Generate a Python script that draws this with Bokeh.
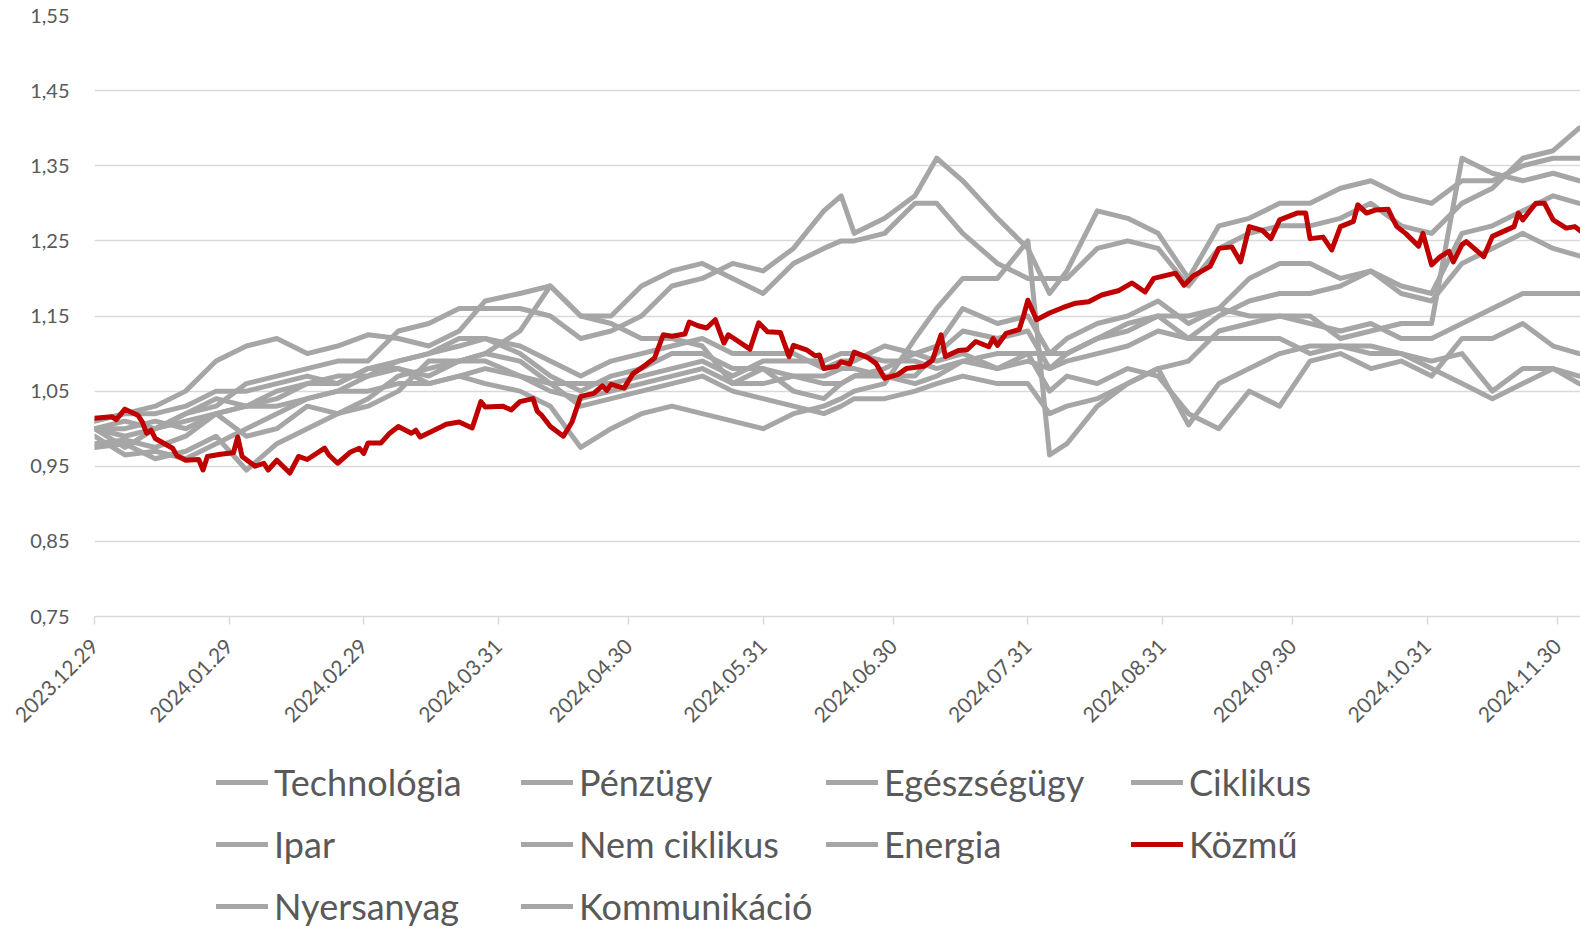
import math
import pandas as pd
from bokeh.plotting import figure
from bokeh.layouts import column
from bokeh.models import (ColumnDataSource, FixedTicker, CustomJSTickFormatter, Range1d,
                          Legend, LegendItem)
from bokeh.embed import file_html
from bokeh.resources import INLINE

# ---------------- data ----------------
grid_dates = ["2023-12-29", "2024-01-05", "2024-01-12", "2024-01-19", "2024-01-26",
              "2024-02-02", "2024-02-09", "2024-02-16", "2024-02-23",
              "2024-03-01", "2024-03-08", "2024-03-15", "2024-03-22", "2024-03-28",
              "2024-04-05", "2024-04-12", "2024-04-19", "2024-04-26",
              "2024-05-03", "2024-05-10", "2024-05-17", "2024-05-24", "2024-05-31",
              "2024-06-07", "2024-06-14", "2024-06-18", "2024-06-21", "2024-06-28",
              "2024-07-05", "2024-07-10", "2024-07-16", "2024-07-24", "2024-07-31",
              "2024-08-05", "2024-08-09", "2024-08-16", "2024-08-23", "2024-08-30",
              "2024-09-06", "2024-09-13", "2024-09-20", "2024-09-27",
              "2024-10-04", "2024-10-11", "2024-10-18", "2024-10-25",
              "2024-11-01", "2024-11-08", "2024-11-15", "2024-11-22", "2024-11-29",
              "2024-12-05"]

technologia = [1.00, 0.975, 1.00, 1.02, 1.03, 1.06, 1.07, 1.08, 1.09, 1.09, 1.13, 1.14, 1.16, 1.16,
               1.16, 1.15, 1.12, 1.13, 1.15, 1.19, 1.20, 1.22, 1.21, 1.24, 1.29, 1.31, 1.26, 1.28,
               1.31, 1.36, 1.33, 1.28, 1.24, 1.18, 1.21, 1.29, 1.28, 1.26, 1.20, 1.27, 1.28, 1.30,
               1.30, 1.32, 1.33, 1.31, 1.30, 1.33, 1.33, 1.35, 1.36, 1.36]
penzugy = [1.00, 1.01, 1.00, 1.02, 1.04, 1.03, 1.05, 1.06, 1.07, 1.07, 1.09, 1.10, 1.12, 1.12,
           1.11, 1.09, 1.07, 1.09, 1.10, 1.11, 1.12, 1.10, 1.10, 1.10, 1.08, 1.09, 1.09, 1.11,
           1.10, 1.11, 1.16, 1.14, 1.15, 1.10, 1.12, 1.14, 1.15, 1.17, 1.14, 1.16, 1.20, 1.22,
           1.22, 1.20, 1.21, 1.19, 1.18, 1.26, 1.27, 1.29, 1.31, 1.30]
egeszsegugy = [1.01, 1.02, 1.02, 1.03, 1.05, 1.05, 1.06, 1.07, 1.06, 1.08, 1.08, 1.07, 1.09, 1.09,
               1.07, 1.05, 1.04, 1.05, 1.06, 1.07, 1.08, 1.06, 1.06, 1.07, 1.07, 1.08, 1.08, 1.07,
               1.06, 1.07, 1.09, 1.08, 1.09, 1.08, 1.09, 1.10, 1.11, 1.13, 1.12, 1.12, 1.12, 1.12,
               1.10, 1.11, 1.11, 1.10, 1.08, 1.06, 1.04, 1.06, 1.08, 1.07]
ciklikus = [0.99, 0.965, 0.97, 0.96, 0.98, 1.00, 1.02, 1.04, 1.05, 1.07, 1.08, 1.06, 1.07, 1.06,
            1.05, 1.03, 0.975, 1.00, 1.02, 1.03, 1.02, 1.01, 1.00, 1.02, 1.03, 1.04, 1.05, 1.06,
            1.12, 1.16, 1.20, 1.20, 1.25, 0.965, 0.98, 1.03, 1.06, 1.08, 1.09, 1.13, 1.14, 1.15,
            1.15, 1.12, 1.13, 1.14, 1.14, 1.36, 1.34, 1.33, 1.34, 1.33]
ipar = [1.00, 0.99, 1.00, 1.01, 1.02, 1.03, 1.04, 1.06, 1.06, 1.08, 1.09, 1.10, 1.11, 1.12,
        1.10, 1.07, 1.05, 1.07, 1.08, 1.10, 1.10, 1.08, 1.08, 1.07, 1.06, 1.06, 1.07, 1.07,
        1.07, 1.10, 1.13, 1.12, 1.13, 1.08, 1.10, 1.12, 1.13, 1.15, 1.12, 1.15, 1.17, 1.18,
        1.18, 1.19, 1.21, 1.18, 1.17, 1.22, 1.24, 1.26, 1.24, 1.23]
nem_ciklikus = [1.00, 1.00, 1.01, 1.00, 1.02, 1.03, 1.03, 1.04, 1.05, 1.05, 1.06, 1.06, 1.07, 1.08,
                1.07, 1.06, 1.06, 1.06, 1.07, 1.08, 1.09, 1.07, 1.09, 1.09, 1.09, 1.10, 1.10, 1.09,
                1.09, 1.08, 1.09, 1.10, 1.10, 1.10, 1.10, 1.12, 1.14, 1.15, 1.15, 1.16, 1.15, 1.15,
                1.14, 1.13, 1.14, 1.12, 1.12, 1.14, 1.16, 1.18, 1.18, 1.18]
energia = [0.98, 0.985, 0.975, 0.99, 1.02, 0.99, 1.00, 1.03, 1.02, 1.03, 1.05, 1.09, 1.09, 1.10,
           1.13, 1.19, 1.15, 1.14, 1.12, 1.12, 1.11, 1.06, 1.08, 1.05, 1.04, 1.06, 1.07, 1.08,
           1.10, 1.09, 1.10, 1.08, 1.10, 1.05, 1.07, 1.06, 1.08, 1.07, 1.02, 1.00, 1.05, 1.03,
           1.09, 1.10, 1.08, 1.09, 1.07, 1.12, 1.12, 1.14, 1.11, 1.10]
nyersanyag = [0.975, 0.98, 0.96, 0.97, 0.99, 0.945, 0.98, 1.00, 1.02, 1.04, 1.07, 1.08, 1.09, 1.10,
              1.09, 1.06, 1.03, 1.04, 1.05, 1.06, 1.07, 1.05, 1.04, 1.03, 1.02, 1.03, 1.04, 1.04,
              1.05, 1.06, 1.07, 1.06, 1.06, 1.02, 1.03, 1.04, 1.06, 1.08, 1.005, 1.06, 1.08, 1.10,
              1.11, 1.11, 1.10, 1.10, 1.09, 1.10, 1.05, 1.08, 1.08, 1.06]
kommunikacio = [1.01, 1.02, 1.03, 1.05, 1.09, 1.11, 1.12, 1.10, 1.11, 1.125, 1.12, 1.11, 1.13, 1.17,
                1.18, 1.19, 1.15, 1.15, 1.19, 1.21, 1.22, 1.20, 1.18, 1.22, 1.24, 1.25, 1.25, 1.26,
                1.30, 1.30, 1.26, 1.22, 1.20, 1.20, 1.20, 1.24, 1.25, 1.24, 1.19, 1.24, 1.26, 1.27,
                1.27, 1.28, 1.30, 1.27, 1.26, 1.30, 1.32, 1.36, 1.37, 1.40]

kozmu_dates = ["2023-12-29", "2024-01-02", "2024-01-03", "2024-01-05", "2024-01-08", "2024-01-09",
               "2024-01-10", "2024-01-11", "2024-01-12", "2024-01-16", "2024-01-17", "2024-01-19",
               "2024-01-22", "2024-01-23", "2024-01-24", "2024-01-27", "2024-01-30", "2024-01-31",
               "2024-02-01", "2024-02-04", "2024-02-06", "2024-02-07", "2024-02-09", "2024-02-12",
               "2024-02-14", "2024-02-16", "2024-02-20", "2024-02-21", "2024-02-23", "2024-02-26",
               "2024-02-28", "2024-02-29",
               "2024-03-01", "2024-03-04", "2024-03-06", "2024-03-08", "2024-03-11", "2024-03-12",
               "2024-03-13", "2024-03-18", "2024-03-19", "2024-03-22", "2024-03-25", "2024-03-27",
               "2024-03-28",
               "2024-04-01", "2024-04-03", "2024-04-05", "2024-04-08", "2024-04-09", "2024-04-10",
               "2024-04-12", "2024-04-15", "2024-04-17", "2024-04-19", "2024-04-22", "2024-04-24",
               "2024-04-25", "2024-04-26", "2024-04-29",
               "2024-05-01", "2024-05-04", "2024-05-06", "2024-05-08", "2024-05-10", "2024-05-13",
               "2024-05-14", "2024-05-16", "2024-05-18", "2024-05-20", "2024-05-22", "2024-05-23",
               "2024-05-28", "2024-05-30",
               "2024-06-01", "2024-06-04", "2024-06-06", "2024-06-07", "2024-06-10", "2024-06-12",
               "2024-06-13", "2024-06-14", "2024-06-17", "2024-06-18", "2024-06-20", "2024-06-21",
               "2024-06-24", "2024-06-26", "2024-06-28",
               "2024-07-01", "2024-07-03", "2024-07-07", "2024-07-09", "2024-07-11", "2024-07-12",
               "2024-07-15", "2024-07-17", "2024-07-19", "2024-07-22", "2024-07-23", "2024-07-24",
               "2024-07-26", "2024-07-29", "2024-07-30", "2024-07-31",
               "2024-08-02", "2024-08-05", "2024-08-08", "2024-08-11", "2024-08-14", "2024-08-17",
               "2024-08-21", "2024-08-24", "2024-08-27", "2024-08-29",
               "2024-09-03", "2024-09-05", "2024-09-07", "2024-09-11", "2024-09-13", "2024-09-16",
               "2024-09-18", "2024-09-20", "2024-09-23", "2024-09-25", "2024-09-27",
               "2024-10-01", "2024-10-03", "2024-10-04", "2024-10-07", "2024-10-09", "2024-10-11",
               "2024-10-14", "2024-10-15", "2024-10-17", "2024-10-19", "2024-10-22", "2024-10-23",
               "2024-10-24", "2024-10-26", "2024-10-29", "2024-10-30",
               "2024-11-01", "2024-11-03", "2024-11-05", "2024-11-06", "2024-11-08", "2024-11-09",
               "2024-11-13", "2024-11-15", "2024-11-20", "2024-11-21", "2024-11-22", "2024-11-25",
               "2024-11-27", "2024-11-29",
               "2024-12-02", "2024-12-04", "2024-12-06"]
kozmu = [1.014, 1.016, 1.012, 1.026, 1.018, 1.009, 0.994, 0.998, 0.987, 0.974, 0.964, 0.958,
         0.959, 0.945, 0.963, 0.966, 0.968, 0.989,
         0.963, 0.950, 0.954, 0.945, 0.958, 0.941, 0.963, 0.959, 0.974, 0.965, 0.954, 0.969,
         0.974, 0.967,
         0.981, 0.981, 0.994, 1.003, 0.994, 0.998, 0.989, 1.003, 1.006, 1.009, 1.001, 1.036,
         1.029,
         1.030, 1.025, 1.036, 1.040, 1.023, 1.018, 1.003, 0.990, 1.009, 1.043, 1.047, 1.057,
         1.051, 1.059, 1.054,
         1.073, 1.085, 1.094, 1.125, 1.123, 1.126, 1.142, 1.137, 1.134, 1.145, 1.114, 1.125,
         1.106, 1.141,
         1.129, 1.128, 1.096, 1.111, 1.105, 1.097, 1.098, 1.080, 1.083, 1.089, 1.086, 1.102,
         1.095, 1.087, 1.067,
         1.072, 1.080, 1.083, 1.091, 1.125, 1.096, 1.104, 1.105, 1.116, 1.109, 1.120, 1.111,
         1.127, 1.132, 1.150, 1.171,
         1.145, 1.154, 1.161, 1.167, 1.169, 1.178, 1.184, 1.194, 1.182, 1.200,
         1.207, 1.191, 1.203, 1.216, 1.240, 1.242, 1.222, 1.269, 1.264, 1.253, 1.278,
         1.287, 1.287, 1.253, 1.255, 1.238, 1.269, 1.276, 1.298, 1.287, 1.291, 1.292, 1.280,
         1.269, 1.260, 1.243, 1.260,
         1.218, 1.229, 1.236, 1.222, 1.245, 1.249, 1.229, 1.256, 1.269, 1.287, 1.278, 1.300,
         1.300, 1.278,
         1.267, 1.269, 1.260]

y_ticks = [0.75, 0.85, 0.95, 1.05, 1.15, 1.25, 1.35, 1.45, 1.55]
x_tick_dates = ["2023-12-29", "2024-01-29", "2024-02-29", "2024-03-31", "2024-04-30", "2024-05-31",
                "2024-06-30", "2024-07-31", "2024-08-31", "2024-09-30", "2024-10-31", "2024-11-30"]
x_tick_labels = ["2023.12.29", "2024.01.29", "2024.02.29", "2024.03.31", "2024.04.30", "2024.05.31",
                 "2024.06.30", "2024.07.31", "2024.08.31", "2024.09.30", "2024.10.31", "2024.11.30"]

legend_order = ["Technológia", "Pénzügy", "Egészségügy", "Ciklikus", "Ipar", "Nem ciklikus",
                "Energia", "Közmű", "Nyersanyag", "Kommunikáció"]
gray_series = {
    "Technológia": technologia, "Pénzügy": penzugy, "Egészségügy": egeszsegugy,
    "Ciklikus": ciklikus, "Ipar": ipar, "Nem ciklikus": nem_ciklikus, "Energia": energia,
    "Nyersanyag": nyersanyag, "Kommunikáció": kommunikacio,
}
highlight = "Közmű"

# ---------------- styling constants ----------------
GRAY = "#A6A6A6"
RED = "#C00000"
TXT = "#595959"
GRID = "#D9D9D9"
FONT = "Lato"
LW = 5

def ms(d):
    return pd.Timestamp(d).value // 10**6

x_start = pd.Timestamp("2023-12-29")
x_end = x_start + pd.Timedelta(days=342.3)

gdates = pd.to_datetime(grid_dates)
sources = {name: ColumnDataSource(dict(x=gdates, y=vals)) for name, vals in gray_series.items()}
sources[highlight] = ColumnDataSource(dict(x=pd.to_datetime(kozmu_dates), y=kozmu))
colors = {name: (RED if name == highlight else GRAY) for name in legend_order}

# ---------------- main chart ----------------
p = figure(width=1580, height=750, x_axis_type="datetime", output_backend="svg",
           toolbar_location=None, min_border_left=94, min_border_right=0,
           min_border_top=15, min_border_bottom=134)
p.x_range = Range1d(x_start, x_end)
p.y_range = Range1d(0.75, 1.55)
p.outline_line_color = None

for name in list(gray_series) + [highlight]:
    p.line("x", "y", source=sources[name], line_color=colors[name], line_width=LW,
           line_join="round", line_cap="round")

p.yaxis.ticker = FixedTicker(ticks=y_ticks)
p.yaxis.formatter = CustomJSTickFormatter(code="return tick.toFixed(2).replace('.', ',');")
p.yaxis.axis_line_color = None
p.yaxis.major_tick_line_color = None
p.yaxis.minor_tick_line_color = None
p.yaxis.major_tick_out = 0
p.yaxis.major_tick_in = 0
p.yaxis.major_label_standoff = 25
p.yaxis.major_label_text_font = FONT
p.yaxis.major_label_text_font_size = "20px"
p.yaxis.major_label_text_color = TXT

p.ygrid.ticker = FixedTicker(ticks=y_ticks)
p.ygrid.grid_line_color = GRID
p.ygrid.grid_line_width = 1.5
p.xgrid.grid_line_color = None

p.xaxis.ticker = FixedTicker(ticks=[ms(d) for d in x_tick_dates])
p.xaxis.major_label_overrides = {ms(d): lab for d, lab in zip(x_tick_dates, x_tick_labels)}
p.xaxis.axis_line_color = GRID
p.xaxis.axis_line_width = 1.5
p.xaxis.major_tick_line_color = GRID
p.xaxis.major_tick_line_width = 1.5
p.xaxis.major_tick_out = 8
p.xaxis.major_tick_in = 0
p.xaxis.minor_tick_line_color = None
p.xaxis.major_label_orientation = math.pi / 4
p.xaxis.major_label_standoff = 18
p.xaxis.major_label_text_font = FONT
p.xaxis.major_label_text_font_size = "21px"
p.xaxis.major_label_text_color = TXT

# ---------------- legend strip (same series, kept outside its view) ----------------
lg = figure(width=1580, height=180, output_backend="svg", toolbar_location=None,
            x_range=Range1d(0, 1), y_range=Range1d(0, 1),
            x_axis_location=None, y_axis_location=None,
            min_border_left=94, min_border_right=0, min_border_top=0, min_border_bottom=0)
lg.grid.visible = False
lg.outline_line_color = None
items = []
for name in legend_order:
    r = lg.line("x", "y", source=sources[name], line_color=colors[name], line_width=LW,
                line_cap="round")
    items.append(LegendItem(label=name, renderers=[r]))
legend = Legend(items=items, location=(122, -4), orientation="horizontal", ncols=4,
                glyph_width=52, glyph_height=56, label_width=241, label_height=56,
                label_standoff=6, spacing=6, padding=0, margin=0,
                border_line_alpha=0, background_fill_alpha=0,
                label_text_font=FONT, label_text_font_size="36px", label_text_color=TXT)
lg.add_layout(legend, "center")

layout = column(p, lg, spacing=0)
open("out.html", "w").write(file_html(layout, INLINE))
